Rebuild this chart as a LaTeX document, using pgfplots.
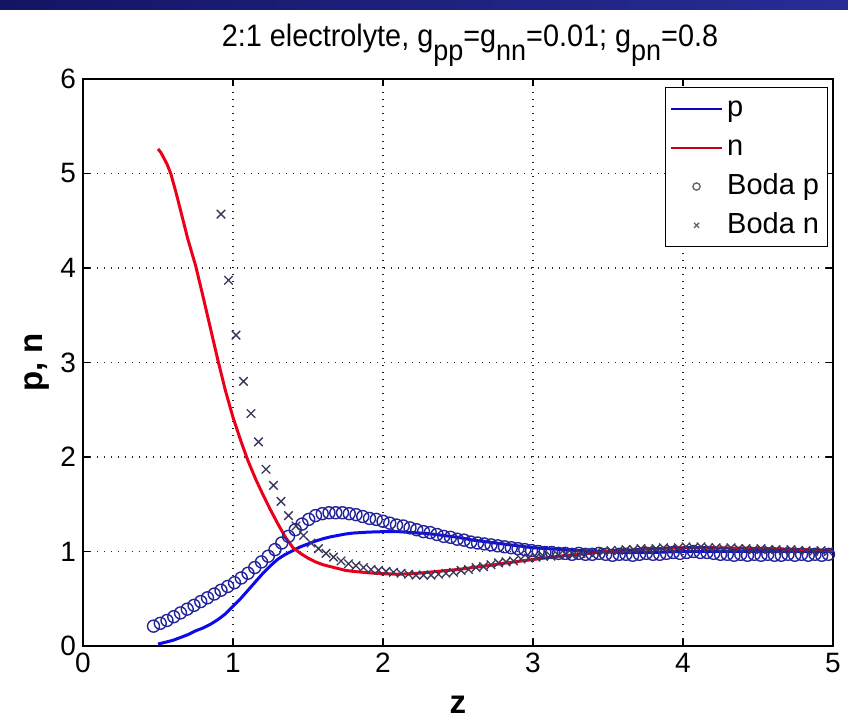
\documentclass[border=0pt]{standalone}
\usepackage{fontspec}
\setmainfont{Liberation Sans}
\newfontfamily\titlefont[FakeStretch=0.93]{Liberation Sans}
\usepackage{pgfplots}
\pgfplotsset{compat=1.18}
\definecolor{pblue}{RGB}{10,10,235}
\definecolor{nred}{RGB}{235,0,25}
\definecolor{bodap}{RGB}{35,35,155}
\definecolor{bodan}{RGB}{55,55,90}
\definecolor{barL}{RGB}{20,20,100}
\definecolor{barR}{RGB}{40,45,150}
\newcommand\sub[1]{\raisebox{-7pt}{\fontsize{14.5}{14.5}\selectfont #1}}

\pgfplotstableread{
z v
0.50 5.26
0.52 5.22
0.54 5.16
0.56 5.10
0.585 5.00
0.62 4.80
0.66 4.55
0.70 4.30
0.75 4.03
0.80 3.70
0.85 3.36
0.90 3.02
0.95 2.70
1.00 2.42
1.05 2.18
1.10 1.96
1.15 1.77
1.20 1.60
1.25 1.44
1.30 1.29
1.35 1.15
1.40 1.04
1.45 0.98
1.50 0.93
1.55 0.89
1.60 0.86
1.65 0.84
1.70 0.82
1.75 0.80
1.80 0.79
1.90 0.775
2.00 0.765
2.10 0.76
2.20 0.765
2.30 0.78
2.40 0.795
2.50 0.81
2.60 0.83
2.70 0.85
2.80 0.875
2.90 0.895
3.00 0.915
3.10 0.935
3.20 0.955
3.30 0.97
3.40 0.985
3.50 1.00
3.60 1.01
3.70 1.02
3.80 1.03
3.90 1.035
4.00 1.04
4.20 1.04
4.40 1.035
4.60 1.03
4.80 1.02
5.00 1.01
}\nline

\pgfplotstableread{
z v
0.50 0.02
0.55 0.04
0.60 0.06
0.65 0.09
0.70 0.12
0.75 0.16
0.80 0.19
0.85 0.23
0.90 0.28
0.95 0.34
1.00 0.42
1.05 0.50
1.10 0.59
1.15 0.68
1.20 0.77
1.25 0.85
1.30 0.92
1.35 0.97
1.40 1.01
1.45 1.05
1.50 1.08
1.55 1.11
1.60 1.135
1.65 1.155
1.70 1.17
1.75 1.185
1.80 1.195
1.90 1.205
2.00 1.21
2.10 1.21
2.20 1.20
2.30 1.19
2.40 1.17
2.50 1.15
2.60 1.12
2.70 1.10
2.80 1.08
2.90 1.06
3.00 1.04
3.10 1.03
3.20 1.02
3.30 1.01
3.40 1.00
3.60 0.99
3.80 0.99
4.00 1.00
4.50 1.00
5.00 1.00
}\pline

\pgfplotstableread{
z v
0.470 0.21
0.515 0.24
0.560 0.27
0.605 0.31
0.650 0.35
0.695 0.39
0.740 0.43
0.785 0.47
0.830 0.51
0.875 0.55
0.920 0.59
0.965 0.63
1.010 0.67
1.055 0.72
1.100 0.77
1.145 0.83
1.190 0.89
1.235 0.95
1.280 1.02
1.325 1.09
1.370 1.16
1.415 1.23
1.460 1.29
1.505 1.34
1.550 1.38
1.595 1.40
1.640 1.41
1.685 1.41
1.730 1.41
1.775 1.40
1.820 1.39
1.865 1.37
1.910 1.35
1.955 1.34
2.000 1.32
2.045 1.30
2.090 1.28
2.135 1.27
2.180 1.25
2.225 1.23
2.270 1.21
2.315 1.20
2.360 1.18
2.405 1.16
2.450 1.15
2.495 1.13
2.540 1.12
2.585 1.10
2.630 1.09
2.675 1.08
2.720 1.07
2.765 1.06
2.810 1.05
2.855 1.04
2.900 1.03
2.945 1.02
2.990 1.01
3.035 1.00
3.080 0.99
3.125 0.99
3.170 0.98
3.215 0.98
3.260 0.97
3.305 0.98
3.350 0.97
3.395 0.97
3.440 0.98
3.485 0.97
3.530 0.96
3.575 0.97
3.620 0.97
3.665 0.96
3.710 0.97
3.755 0.98
3.800 0.97
3.845 0.97
3.890 0.98
3.935 0.99
3.980 0.98
4.025 0.99
4.070 1.00
4.115 0.99
4.160 0.99
4.205 0.98
4.250 0.97
4.295 0.97
4.340 0.96
4.385 0.97
4.430 0.96
4.475 0.97
4.520 0.96
4.565 0.97
4.610 0.96
4.655 0.96
4.700 0.97
4.745 0.96
4.790 0.97
4.835 0.96
4.880 0.97
4.925 0.96
4.970 0.97
}\bodap

\pgfplotstableread{
z v
0.92 4.57
0.97 3.87
1.02 3.29
1.07 2.80
1.12 2.46
1.17 2.16
1.22 1.87
1.27 1.70
1.32 1.53
1.37 1.38
1.42 1.27
1.47 1.17
1.52 1.09
1.57 1.03
1.62 0.98
1.67 0.94
1.72 0.90
1.77 0.87
1.82 0.85
1.87 0.83
1.92 0.81
1.97 0.80
2.02 0.79
2.07 0.78
2.12 0.77
2.17 0.76
2.22 0.75
2.27 0.75
2.32 0.75
2.37 0.76
2.42 0.77
2.47 0.78
2.52 0.80
2.57 0.81
2.62 0.83
2.67 0.84
2.72 0.86
2.77 0.88
2.82 0.89
2.87 0.90
2.92 0.92
2.97 0.93
3.02 0.94
3.07 0.95
3.12 0.95
3.17 0.96
3.22 0.97
3.27 0.97
3.32 0.98
3.37 0.99
3.42 0.99
3.47 1.00
3.52 1.01
3.57 1.01
3.62 1.02
3.67 1.02
3.72 1.03
3.77 1.02
3.82 1.03
3.87 1.04
3.92 1.03
3.97 1.04
4.02 1.05
4.07 1.04
4.12 1.05
4.17 1.04
4.22 1.04
4.27 1.03
4.32 1.04
4.37 1.03
4.42 1.03
4.47 1.02
4.52 1.03
4.57 1.02
4.62 1.02
4.67 1.01
4.72 1.02
4.77 1.01
4.82 1.01
4.87 1.00
4.92 1.01
4.97 1.00
}\bodan

\begin{document}
\begin{tikzpicture}
\path[use as bounding box] (-41.5pt,-38pt) rectangle (382.5pt,323pt);
\shade[left color=barL, right color=barR] (-41.5pt,318pt) rectangle (382.5pt,323pt);
\begin{axis}[
  at={(0pt,0pt)}, anchor=south west,
  scale only axis, width=375pt, height=283.5pt,
  xmin=0, xmax=5, ymin=0, ymax=6,
  xtick={0,1,2,3,4,5}, ytick={0,1,2,3,4,5,6},
  grid=major,
  grid style={black!85, dash pattern=on 0.7pt off 2.8pt, line width=0.7pt},
  tick align=inside, major tick length=3.5pt,
  tick style={black, line width=0.6pt},
  axis line style={black, line width=0.8pt},
  /pgf/number format/assume math mode=true,
  ticklabel style={font=\fontsize{14}{14}\selectfont},
  title={\titlefont 2:1 electrolyte, g\sub{pp}=g\sub{nn}=0.01; g\sub{pn}=0.8},
  title style={font=\fontsize{15.5}{18}\selectfont, at={(0.5,1)}, anchor=base, yshift=10.5pt, xshift=6pt},
  xlabel={\bfseries z},
  ylabel={\bfseries p, n},
  xlabel style={font=\fontsize{16.5}{16.5}\selectfont, at={(axis description cs:0.5,0)}, anchor=center, yshift=-29.5pt},
  ylabel style={font=\fontsize{16.5}{16.5}\selectfont, at={(axis description cs:-0.0613,0.5)}, anchor=center, rotate=0},
  legend cell align=left,
  legend style={at={(0.993,0.986)}, anchor=north east, draw=black, line width=0.6pt, fill=white,
    font=\fontsize{14.5}{17}\selectfont, row sep=0pt, inner xsep=2pt, inner ysep=1pt,
    nodes={inner ysep=2.6pt, inner xsep=2pt, text height=11pt, text depth=3.2pt}},
]
\addplot[pblue, line width=1.5pt, legend image code/.code={\draw[pblue!80!black, line width=1.2pt] (0pt,0pt) -- (25.5pt,0pt);}] table[x=z,y=v] {\pline};
\addlegendentry{p}
\addplot[nred, line width=1.5pt, legend image code/.code={\draw[nred!85!black, line width=1.2pt] (0pt,0pt) -- (25.5pt,0pt);}] table[x=z,y=v] {\nline};
\addlegendentry{n}
\addplot[only marks, mark=o, mark size=3pt, bodap, mark options={line width=0.7pt},
  legend image code/.code={\draw[black!60, line width=0.5pt] plot[mark=o, mark size=1.8pt] coordinates {(12.75pt,0pt)};}] table[x=z,y=v] {\bodap};
\addlegendentry{Boda p}
\addplot[only marks, mark=x, mark size=3pt, bodan, mark options={line width=0.65pt},
  legend image code/.code={\draw[black!60, line width=0.5pt] plot[mark=x, mark size=1.8pt] coordinates {(12.75pt,0pt)};}] table[x=z,y=v] {\bodan};
\addlegendentry{Boda n}
\end{axis}
\end{tikzpicture}
\end{document}
